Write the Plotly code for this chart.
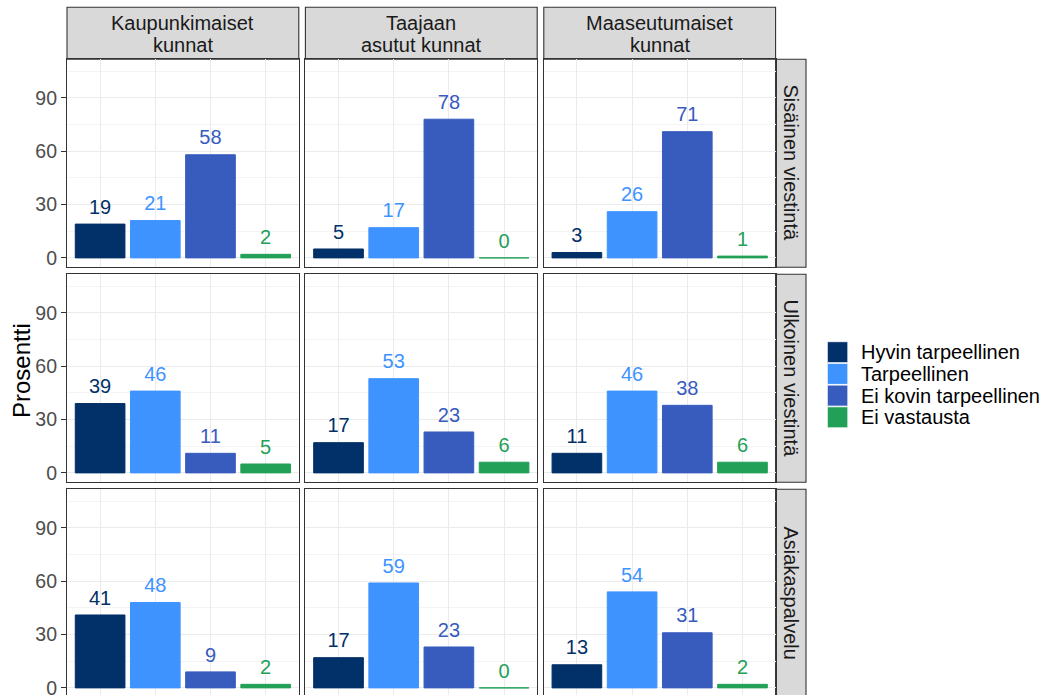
import plotly.graph_objects as go

# ---- data ----
columns = ["Kaupunkimaiset kunnat", "Taajaan asutut kunnat", "Maaseutumaiset kunnat"]
column_lines = [["Kaupunkimaiset", "kunnat"], ["Taajaan", "asutut kunnat"], ["Maaseutumaiset", "kunnat"]]
rows = ["Sisäinen viestintä", "Ulkoinen viestintä", "Asiakaspalvelu"]
categories = ["Hyvin tarpeellinen", "Tarpeellinen", "Ei kovin tarpeellinen", "Ei vastausta"]
colors = ["#023068", "#3F93FF", "#385BBE", "#23A058"]

sisainen = [[19, 21, 58, 2], [5, 17, 78, 0], [3, 26, 71, 1]]
ulkoinen = [[39, 46, 11, 5], [17, 53, 23, 6], [11, 46, 38, 6]]
asiakaspalvelu = [[41, 48, 9, 2], [17, 59, 23, 0], [13, 54, 31, 2]]
values = [sisainen, ulkoinen, asiakaspalvelu]

y_ticks = [0, 30, 60, 90]

# ---- layout geometry (pixels) ----
W, H = 1046, 695
ML, MT = 67, 7
PR = 805.7          # right edge of right strips
PW = PR - ML
PH = H - MT

def px_x(p):
    return (p - ML) / PW

def px_y(p):
    return (H - p) / PH

col_left = [67, 305.3, 543.6]
col_w = 231.7
row_top = [59.3, 274.3, 489.3]
row_h = 208
strip_top = 7.3
right_strip = (775.3, 805.7)
unit = 208 / 117.0
ymax = 111.7

fig = go.Figure()
layout_axes = {}
shapes = []
annotations = []

for r in range(3):
    for c in range(3):
        idx = r * 3 + c + 1
        xa = "x" if idx == 1 else f"x{idx}"
        ya = "y" if idx == 1 else f"y{idx}"
        x0 = col_left[c]
        x1 = x0 + col_w
        top = row_top[r]
        bottom = min(top + row_h, H)
        ymin = ymax - (bottom - top) / unit
        vals = values[r][c]
        for k, cat in enumerate(categories):
            fig.add_trace(go.Bar(
                x=[k + 1], y=[vals[k]], width=0.9,
                marker=dict(color=colors[k], line=dict(color=colors[k], width=1)),
                name=cat, showlegend=False, xaxis=xa, yaxis=ya,
                hoverinfo="skip",
            ))
        fig.add_trace(go.Scatter(
            x=[1, 2, 3, 4], y=vals, mode="markers+text",
            marker=dict(size=7, opacity=0),
            text=[str(v) for v in vals], textposition="top center",
            textfont=dict(size=20, color=colors, family="Liberation Sans, Arial"),
            showlegend=False, xaxis=xa, yaxis=ya, cliponaxis=False, hoverinfo="skip",
        ))
        key_x = "xaxis" if idx == 1 else f"xaxis{idx}"
        key_y = "yaxis" if idx == 1 else f"yaxis{idx}"
        layout_axes[key_x] = dict(
            domain=[px_x(x0), px_x(x1)], anchor=ya, range=[0.4, 4.6],
            tickvals=[1, 2, 3, 4], showticklabels=False, ticks="",
            showgrid=True, gridcolor="#EBEBEB", gridwidth=1, zeroline=False,
            showline=True, mirror=True, linecolor="#333333", linewidth=1.1,
            fixedrange=True, automargin=False,
        )
        layout_axes[key_y] = dict(
            domain=[px_y(bottom), px_y(top)], anchor=xa, range=[ymin, ymax],
            tickvals=y_ticks, showticklabels=(c == 0),
            ticks="outside" if c == 0 else "", ticklen=5, tickcolor="#333333", tickwidth=1.1,
            tickfont=dict(size=19.5, color="#4D4D4D", family="Liberation Sans, Arial"),
            ticklabeloverflow="allow", automargin=False,
            showgrid=True, gridcolor="#EBEBEB", gridwidth=1, zeroline=False,
            minor=dict(tickvals=[15, 45, 75, 105], showgrid=True, gridcolor="#F4F4F4", gridwidth=1, ticks=""),
            showline=True, mirror=True, linecolor="#333333", linewidth=1.1,
            fixedrange=True,
        )

# top strips
for c in range(3):
    x0 = col_left[c]
    x1 = x0 + col_w
    shapes.append(dict(type="rect", xref="paper", yref="paper",
                       x0=px_x(x0), x1=px_x(x1), y0=px_y(59.3), y1=px_y(strip_top),
                       fillcolor="#D9D9D9", line=dict(color="#333333", width=1.1), layer="below"))
    for li, line in enumerate(column_lines[c]):
        annotations.append(dict(
            text=line, xref="paper", yref="paper",
            x=px_x((x0 + x1) / 2), y=px_y(23.5 + li * 21),
            showarrow=False, xanchor="center", yanchor="middle",
            font=dict(size=20, color="#1A1A1A", family="Liberation Sans, Arial"),
        ))

# right strips
for r in range(3):
    top = row_top[r]
    bottom = min(top + row_h, H + 5)
    shapes.append(dict(type="rect", xref="paper", yref="paper",
                       x0=px_x(right_strip[0]), x1=px_x(right_strip[1]),
                       y0=px_y(bottom), y1=px_y(top),
                       fillcolor="#D9D9D9", line=dict(color="#333333", width=1.1), layer="below"))
    annotations.append(dict(
        text=rows[r], xref="paper", yref="paper",
        x=px_x(sum(right_strip) / 2), y=px_y((top + top + row_h) / 2),
        showarrow=False, textangle=90, xanchor="center", yanchor="middle",
        font=dict(size=20, color="#1A1A1A", family="Liberation Sans, Arial"),
    ))

# y-axis title
annotations.append(dict(
    text="Prosentti", xref="paper", yref="paper",
    x=px_x(22), y=px_y(370), showarrow=False, textangle=-90,
    xanchor="center", yanchor="middle",
    font=dict(size=24, color="#000000", family="Liberation Sans, Arial"),
))

# legend (keys + labels)
key_tops = [341.7, 363.4, 385.1, 406.8]
for k, cat in enumerate(categories):
    t = key_tops[k]
    shapes.append(dict(type="rect", xref="paper", yref="paper",
                       x0=px_x(827), x1=px_x(847.5), y0=px_y(t + 21), y1=px_y(t),
                       fillcolor=colors[k], line=dict(color="white", width=0.8)))
    annotations.append(dict(
        text=cat, xref="paper", yref="paper",
        x=px_x(859), y=px_y(t + 10.5), showarrow=False,
        xanchor="left", yanchor="middle",
        font=dict(size=20, color="#000000", family="Liberation Sans, Arial"),
    ))

fig.update_layout(
    width=W, height=H,
    margin=dict(l=ML, r=W - PR, t=MT, b=0, pad=0, autoexpand=False),
    paper_bgcolor="white", plot_bgcolor="white",
    showlegend=False, barmode="overlay",
    shapes=shapes, annotations=annotations,
    font=dict(family="Liberation Sans, Arial"),
    **layout_axes,
)

fig.write_html(
    "out.html",
    config={"displayModeBar": False},
    post_script="document.body.style.margin='0';document.body.style.overflow='hidden';",
)
